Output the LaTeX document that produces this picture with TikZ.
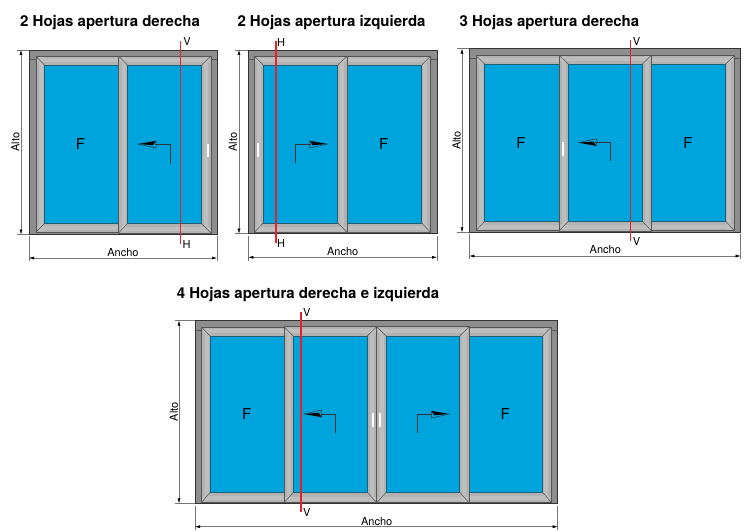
\documentclass[tikz,border=0pt]{standalone}
\usepackage{fontspec}
\setmainfont{TeX Gyre Heros}
\usetikzlibrary{arrows.meta}
\definecolor{glassc}{HTML}{00A4DC}
\definecolor{railc}{HTML}{B2B2B2}
\definecolor{railh}{HTML}{BEBEBE}
\definecolor{framec}{HTML}{8E8E8E}
\definecolor{linec}{HTML}{333333}
\definecolor{edgec}{HTML}{555555}
\definecolor{dimc}{HTML}{777777}
\definecolor{redc}{HTML}{E8202A}
\tikzset{
  x=1pt,y=-1pt,
  framebox/.style={fill=framec,draw=linec,line width=.9pt},
  rail/.style={fill=railc,draw=edgec,line width=.7pt},
  mitre/.style={draw=edgec,line width=.5pt},
  glass/.style={fill=glassc,draw=linec!60!glassc,line width=.6pt},
  handle/.style={fill=white,draw=none},
  cutline/.style={fill=redc,draw=none},
  dimext/.style={draw=dimc,line width=.5pt},
  dimline/.style={draw=dimc,line width=.5pt,{Latex[black,length=5pt,width=3pt]}-{Latex[black,length=5pt,width=3pt]}},
  title/.style={font=\bfseries\fontsize{15}{15}\selectfont,anchor=base west,inner sep=0pt},
  letter/.style={font=\fontsize{11}{11}\selectfont,inner sep=0pt},
  fixed/.style={font=\fontsize{15}{15}\selectfont,inner sep=0pt},
  dimtext/.style={font=\fontsize{11}{11}\selectfont,inner sep=0pt},
  flowline/.style={draw=linec,line width=.6pt},
}
% outer frame: x1 y1 x2 y2 band-bottom
\newcommand{\outerframe}[5]{%
  \path[framebox] (#1,#2) rectangle (#3,#4);
  \draw[edgec,line width=.5pt] (#1,#5) -- (#3,#5);
}
% sash: outer x1 y1 x2 y2, glass x1 y1 x2 y2
\newcommand{\sash}[8]{%
  \path[rail] (#1,#2) rectangle (#3,#4);
  \path[fill=railh] (#1+1,#2+2) rectangle (#3-1,#2+6);
  \path[fill=railh] (#1+1,#4-2) rectangle (#3-1,#4-6);
  \path[fill=railh] (#1+3,#2+1) rectangle (#1+7,#4-1);
  \path[fill=railh] (#3-3,#2+1) rectangle (#3-7,#4-1);
  \draw[mitre] (#1,#2) -- (#5,#6) (#3,#2) -- (#7,#6) (#1,#4) -- (#5,#8) (#3,#4) -- (#7,#8);
  \path[glass] (#5,#6) rectangle (#7,#8);
}
% flow arrow: tip x, y, corner x, foot y, xdir (1 = tip left), ydir
\newcommand{\flowarrow}[6]{%
  \draw[flowline] (#3,#4) -- (#3,#2) -- (#1+#5*17,#2);
  \begin{scope}[shift={(#1,#2)},xscale=#5,yscale=#6]
    \path[fill=black] (0,0) -- (18,-3.2) -- (15,1.2) -- cycle;
    \draw[flowline,line width=.5pt] (0,0) -- (18,4) -- (18,-3.2);
  \end{scope}
}
% red section line: x, top y, bottom y
\newcommand{\sectionline}[3]{\path[cutline] (#1-.8,#2) rectangle (#1+.8,#3);}
\begin{document}
\begin{tikzpicture}
\useasboundingbox (0,0) rectangle (752,532);
\fill[white] (0,0) rectangle (752,532);

% ---------- window 1
\node[title] (t1) at (20,26.5) {2 Hojas apertura derecha};
\outerframe{29}{50}{217}{234.5}{59}
\sash{36}{56.5}{130}{232}{44.5}{65}{128}{223.5}
\sash{118.5}{56}{211}{233}{127.5}{65}{201.5}{223.5}
\path[handle] (206.5,144) rectangle (208.5,157);
\flowarrow{138}{144}{170}{163.5}{1}{1}
\node[fixed] (f1) at (80.5,144.5) {F};
\sectionline{180.5}{41}{244}
\node[letter] (v1) at (187,41.5) {V};
\node[letter] (h1) at (186.5,244) {H};
\draw[dimext] (17,50) -- (29,50) (17,234.5) -- (29,234.5);
\draw[dimline] (21,50) -- (21,234.5);
\node[dimtext,rotate=90] (a1) at (15.5,142) {Alto};
\draw[dimext] (29,236) -- (29,261) (217,236) -- (217,261);
\draw[dimline] (29,258) -- (217,258);
\node[dimtext] (w1) at (123,252.5) {Ancho};

% ---------- window 2
\node[title] (t2) at (237.3,26.5) {2 Hojas apertura izquierda};
\outerframe{248.3}{50}{437}{233.7}{59}
\sash{335}{56.5}{430.3}{232}{340}{65}{421.7}{223}
\sash{254}{56}{347.3}{232.5}{263.3}{65}{337.7}{223}
\path[handle] (256.7,143) rectangle (258.7,157);
\flowarrow{327.7}{144}{295.3}{163}{-1}{1}
\node[fixed] (f2) at (383.7,144.5) {F};
\sectionline{276}{41}{243}
\node[letter] (v2) at (281,42) {H};
\node[letter] (h2) at (281,243) {H};
\draw[dimext] (235,50) -- (248.3,50) (235,233.7) -- (248.3,233.7);
\draw[dimline] (239,50) -- (239,233.7);
\node[dimtext,rotate=90] (a2) at (233,142) {Alto};
\draw[dimext] (248.3,236) -- (248.3,260.5) (437,236) -- (437,260.5);
\draw[dimline] (248.3,257.3) -- (437,257.3);
\node[dimtext] (w2) at (342.7,251.5) {Ancho};

% ---------- window 3
\node[title] (t3) at (459.3,26.5) {3 Hojas apertura derecha};
\outerframe{469.3}{48.7}{740.7}{232.3}{58.3}
\sash{476}{55.7}{570}{230.5}{484.7}{64}{565}{221.3}
\sash{640}{55.7}{734.3}{230.5}{645}{64}{725.7}{221.3}
\sash{559}{55}{651.7}{231}{568.3}{64}{642.3}{221.3}
\path[handle] (561.7,142) rectangle (563.7,155.5);
\flowarrow{578.3}{142.7}{610.3}{161.3}{1}{-1}
\node[fixed] (f3) at (521,143.5) {F};
\node[fixed] (f4) at (688,143.5) {F};
\sectionline{630.5}{40}{241}
\node[letter] (v3) at (636.5,41) {V};
\node[letter] (h3) at (636.5,241) {V};
\draw[dimext] (457,48.7) -- (469.3,48.7) (457,232.3) -- (469.3,232.3);
\draw[dimline] (462,48.7) -- (462,232.3);
\node[dimtext,rotate=90] (a3) at (456.7,140.5) {Alto};
\draw[dimext] (469.3,234) -- (469.3,259) (740.7,234) -- (740.7,259);
\draw[dimline] (469.3,256) -- (740.7,256);
\node[dimtext] (w3) at (605.3,250) {Ancho};

% ---------- window 4
\node[title] (t4) at (176.7,298.3) {4 Hojas apertura derecha e izquierda};
\outerframe{195}{320.7}{557.7}{503.3}{330}
\sash{201.7}{327.3}{296}{502.3}{210}{336}{290}{492.3}
\sash{457}{327.3}{551}{502.3}{462}{336}{542.7}{492.3}
\sash{284}{326.7}{376.7}{502.7}{293.3}{336}{367.3}{492.3}
\sash{376.7}{326.7}{469}{502.7}{386}{336}{459.7}{492.3}
\path[handle] (371.7,413.3) rectangle (373.7,426.7);
\path[handle] (379.3,413.3) rectangle (381.3,426.7);
\flowarrow{303.7}{414}{335.3}{432.7}{1}{-1}
\flowarrow{449.3}{414}{417.3}{432.7}{-1}{1}
\node[fixed] (f5) at (246.7,414.5) {F};
\node[fixed] (f6) at (505.3,414.5) {F};
\sectionline{301}{311.7}{512.3}
\node[letter] (v4) at (306.7,312) {V};
\node[letter] (h4) at (306.7,512) {V};
\draw[dimext] (175,320.7) -- (195,320.7) (175,503.3) -- (195,503.3);
\draw[dimline] (179,320.7) -- (179,503.3);
\node[dimtext,rotate=90] (a4) at (174,411.7) {Alto};
\draw[dimext] (195,506) -- (195,530) (557.7,506) -- (557.7,530);
\draw[dimline] (195,526.7) -- (557.7,526.7);
\node[dimtext] (w4) at (376.7,521.7) {Ancho};
\end{tikzpicture}
\end{document}
